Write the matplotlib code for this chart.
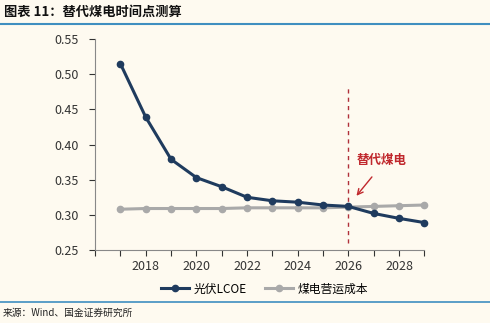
import matplotlib.pyplot as plt
from matplotlib.lines import Line2D

plt.rcParams['font.family'] = ['Noto Sans CJK SC', 'DejaVu Sans']

# data
years = list(range(2017, 2030))
pv_lcoe = [0.515, 0.439, 0.379, 0.353, 0.340, 0.325, 0.320, 0.318, 0.314, 0.312, 0.302, 0.295, 0.289]
coal_cost = [0.308, 0.309, 0.309, 0.309, 0.309, 0.310, 0.310, 0.310, 0.310, 0.311, 0.312, 0.313, 0.314]
xtick_labels = [str(y) if y % 2 == 0 and y > 2016 else '' for y in range(2016, 2030)]

bg = '#fefaf0'
navy = '#1f3b5e'
grey = '#a9a9a9'
rule = '#3f8fc0'

fig = plt.figure(figsize=(4.9, 3.23), dpi=100, facecolor=bg)
ax = fig.add_axes([0.194, 0.226, 0.672, 0.653], facecolor=bg)

ax.plot(years, pv_lcoe, color=navy, lw=2.2, marker='o', ms=4.5, zorder=3, clip_on=False)
ax.plot(years, coal_cost, color=grey, lw=2.2, marker='o', ms=4.5, zorder=2, clip_on=False)

# crossover marker
ax.axvline(2026, ymin=0.033, ymax=0.78, color='#b0303a', ls=(0, (3, 3)), lw=1.0, zorder=1)
ax.annotate('', xy=(2026.25, 0.324), xytext=(2027.0, 0.357),
            arrowprops=dict(arrowstyle='->', color='#c0282d', lw=1.0))
ax.text(2027.3, 0.378, '替代煤电', color='#c0282d', fontsize=9, fontweight='bold',
        ha='center', va='center')

ax.set_xlim(2016, 2029)
ax.set_ylim(0.25, 0.55)
ax.set_xticks(range(2016, 2030))
ax.set_xticklabels(xtick_labels)
ax.set_yticks([0.25, 0.30, 0.35, 0.40, 0.45, 0.50, 0.55])
ax.set_yticklabels(['%.2f' % v for v in ax.get_yticks()])
ax.tick_params(labelsize=9, colors='#333333', length=4, width=0.8)
ax.tick_params(axis='y', pad=8)
for s in ['top', 'right']:
    ax.spines[s].set_visible(False)
for s in ['left', 'bottom']:
    ax.spines[s].set_color('#888888')
    ax.spines[s].set_linewidth(0.8)

handles = [Line2D([], [], color=navy, lw=2.2, marker='o', ms=4.5),
           Line2D([], [], color=grey, lw=2.2, marker='o', ms=4.5)]
fig.legend(handles, ['光伏LCOE', '煤电营运成本'], loc='center', bbox_to_anchor=(0.54, 0.105),
           ncol=2, frameon=False, fontsize=8.5, handlelength=2.4, columnspacing=1.5,
           handletextpad=0.4)

# title and source with rules
fig.text(0.008, 0.962, '图表 11：替代煤电时间点测算', fontsize=9.5, fontweight='bold',
         style='italic', color='#111111', va='center')
fig.add_artist(Line2D([0, 1], [0.925, 0.925], color=rule, lw=1.5, transform=fig.transFigure))
fig.add_artist(Line2D([0, 1], [0.064, 0.064], color=rule, lw=1.2, transform=fig.transFigure))
fig.text(0.005, 0.03, '来源：Wind、国金证券研究所', fontsize=7, color='#222222', va='center')

fig.savefig('out.png', dpi=100, facecolor=bg)
